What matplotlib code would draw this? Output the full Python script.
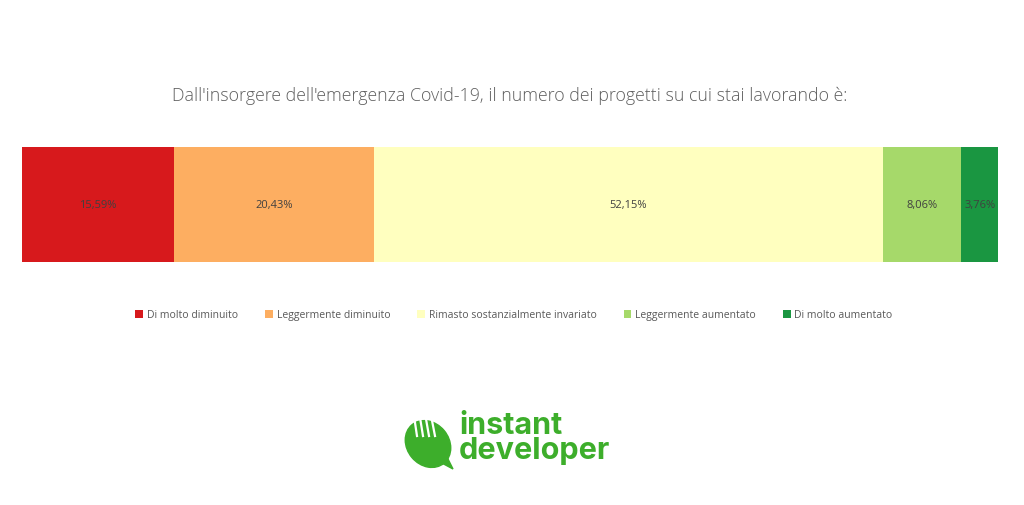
import numpy as np
import matplotlib.pyplot as plt
from matplotlib.patches import Ellipse, Polygon

# Data
categories = ["Di molto diminuito", "Leggermente diminuito",
              "Rimasto sostanzialmente invariato", "Leggermente aumentato",
              "Di molto aumentato"]
values = [15.59, 20.43, 52.15, 8.06, 3.76]
colors = ["#D7191C", "#FDAE61", "#FFFFBF", "#A6D96A", "#1A9641"]
title = "Dall'insorgere dell'emergenza Covid-19, il numero dei progetti su cui stai lavorando è:"

W, H = 1024, 506
fig = plt.figure(figsize=(W / 100, H / 100), dpi=100)
fig.patch.set_facecolor("white")


def px_axes(x0, y0, x1, y1):
    # axes placed by pixel box (top-left origin)
    return fig.add_axes([x0 / W, 1 - y1 / H, (x1 - x0) / W, (y1 - y0) / H])


# Title
fig.text(510 / W, 1 - 96 / H, title, ha="center", va="center",
         fontsize=12.8, color="#5f5f5f", family="Open Sans", fontweight="light")

# Stacked bar
ax = px_axes(22, 148, 998, 263)
lefts = np.concatenate([[0], np.cumsum(values)[:-1]])
for cat, v, l, c in zip(categories, values, lefts, colors):
    ax.barh([0], [v], left=[l], color=c, height=1.0, label=cat)
    ax.text(l + v / 2, 0, f"{v:.2f}%".replace(".", ","), ha="center", va="center",
            fontsize=8, color="#404040", family="Open Sans")
ax.set_xlim(0, sum(values))
ax.set_ylim(-0.5, 0.5)
ax.axis("off")

handles, labels = ax.get_legend_handles_labels()
fig.legend(handles, labels, loc="center", bbox_to_anchor=(514 / W, 1 - 316 / H),
           ncol=5, frameon=False, handlelength=0.75, handleheight=0.75,
           handletextpad=0.35, columnspacing=2.6, labelcolor="#595959",
           prop={"family": "Open Sans", "size": 7.5})

# Logo
green = "#3DAE2B"
lax = px_axes(400, 405, 460, 475)
lax.set_xlim(400, 460)
lax.set_ylim(475, 405)
lax.axis("off")
lax.add_patch(Ellipse((428, 445), 42, 50, angle=-40, color=green))
lax.add_patch(Polygon([[438, 462], [453, 470], [447, 458]], color=green))
for i, x in enumerate([414, 420, 426, 432]):
    lax.plot([x, x + 3], [417 + i * 1.5, 437], color="white", lw=1.6)
fig.text(459 / W, 1 - 412 / H, "instant\ndeveloper", ha="left", va="top",
         fontsize=22, fontweight="bold", color=green, family="Inter",
         linespacing=0.85)

fig.savefig("out.png", dpi=100, facecolor="white")
